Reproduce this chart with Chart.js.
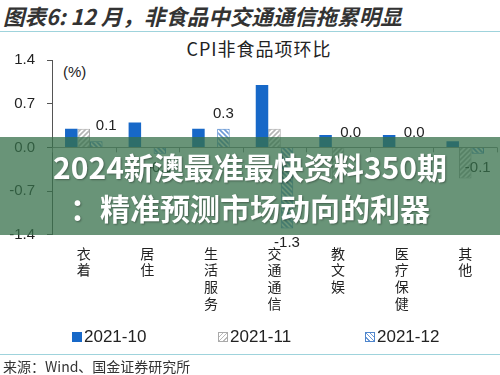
<!DOCTYPE html>
<html>
<head>
<meta charset="utf-8">
<script src="https://cdn.jsdelivr.net/npm/chart.js@4.4.0/dist/chart.umd.min.js"></script>
<style>
body { margin:0; width:500px; height:375px; background:#fff; position:relative; overflow:hidden; font-family:"Liberation Sans", Arial, sans-serif; }
#hdr { position:absolute; left:3px; top:0px; font:italic bold 21.5px "Noto Sans CJK SC", sans-serif; color:#333; white-space:nowrap; }
.rule { position:absolute; left:0; width:500px; height:1px; background:#9fd3dc; }
#ttl { position:absolute; left:0; width:518px; top:35px; text-align:center; font:18px "Noto Sans CJK SC", sans-serif; letter-spacing:1px; color:#222; }
#pct { position:absolute; left:63px; top:63px; font:15px "Liberation Sans", Arial, sans-serif; color:#222; }
#wrap { position:absolute; left:0; top:0; width:500px; height:330px; }
.ley { position:absolute; top:327px; font:17px "Liberation Sans", Arial, sans-serif; color:#222; white-space:nowrap; }
.ley i { display:inline-block; width:10px; height:10px; margin-right:2px; vertical-align:0px; box-sizing:border-box; }
#fuente { position:absolute; left:3px; top:356px; font:14px "Noto Sans CJK SC", sans-serif; color:#333; white-space:nowrap; }
#banner { position:absolute; left:0; top:137px; width:500px; height:98px; background:rgba(55,112,75,0.75); color:#fff; text-align:center; font:bold 30px "Noto Sans CJK SC", sans-serif; line-height:41px; text-shadow:1px 1px 2px rgba(0,0,0,0.35); padding-top:9px; box-sizing:border-box; }
</style>
</head>
<body>
<div id="hdr">图表6: 12 月，非食品中交通通信拖累明显</div>
<div class="rule" style="top:31px"></div>
<div id="ttl">CPI非食品项环比</div>
<div id="pct">(%)</div>
<div id="wrap"><canvas id="grafica" width="500" height="330"></canvas></div>
<div class="ley" style="left:72px"><i style="background:#1768c8"></i>2021-10</div>
<div class="ley" style="left:218px"><i style="border:1px solid #aaa;background:repeating-linear-gradient(-45deg,#fff 0 2px,#bbb 2px 3px)"></i>2021-11</div>
<div class="ley" style="left:365px"><i style="border:1px solid #4f86cc;background:repeating-linear-gradient(45deg,#fff 0 2px,#6d9ad8 2px 3px)"></i>2021-12</div>
<div class="rule" style="top:354px"></div>
<div id="fuente">来源：Wind、国金证券研究所</div>
<div id="banner"><div>2024新澳最准最快资料350期</div><div>：精准预测市场动向的利器</div></div>

<script>
// datos del grafico
var categorias = [['衣','着'],['居','住'],['生','活','服','务'],['交','通','通','信'],['教','文','娱'],['医','疗','保','健'],['其','他']];
var serieNombres = ['2021-10', '2021-11', '2021-12'];
var oct2021 = [0.3, 0.4, 0.3, 1.0, 0.2, 0.2, 0.1];
var nov2021 = [0.3, 0.0, 0.0, 0.3, -0.5, 0.0, -0.5];
var dic2021 = [0.1, -0.1, 0.3, -1.3, 0.0, 0.0, -0.1];
var ticksY = [-1.4, -0.7, 0.0, 0.7, 1.4];

// patron rayado para las barras
function rayado(fondo, raya, invertido) {
    var c = document.createElement('canvas');
    c.width = 5; c.height = 5;
    var g = c.getContext('2d');
    g.fillStyle = fondo;
    g.fillRect(0, 0, 5, 5);
    g.strokeStyle = raya;
    g.lineWidth = 1.6;
    g.beginPath();
    if (invertido) {
        g.moveTo(-1, -1); g.lineTo(6, 6);
        g.moveTo(-1, 4); g.lineTo(1, 6);
        g.moveTo(4, -1); g.lineTo(6, 1);
    } else {
        g.moveTo(-1, 6); g.lineTo(6, -1);
        g.moveTo(-1, 1); g.lineTo(1, -1);
        g.moveTo(4, 6); g.lineTo(6, 4);
    }
    g.stroke();
    return g.createPattern(c, 'repeat');
}

// etiquetas de la serie 2021-12 y marcas sobre la linea cero
var etiquetas = {
    id: 'etiquetas',
    afterDatasetsDraw: function(chart) {
        var ctx = chart.ctx;
        var x = chart.scales.x;
        var y0 = chart.scales.y.getPixelForValue(0);
        ctx.save();
        ctx.strokeStyle = '#888';
        ctx.lineWidth = 1;
        var paso = x.getPixelForValue(1) - x.getPixelForValue(0);
        for (var i = 0; i <= categorias.length; i++) {
            var px = Math.round(x.getPixelForValue(i) - paso / 2) + 0.5;
            ctx.beginPath();
            ctx.moveTo(px, y0);
            ctx.lineTo(px, y0 + 5);
            ctx.stroke();
        }
        ctx.font = '15px "Liberation Sans", Arial, sans-serif';
        ctx.fillStyle = '#222';
        ctx.textAlign = 'center';
        ctx.textBaseline = 'middle';
        var meta = chart.getDatasetMeta(2);
        meta.data.forEach(function(barra, i) {
            var v = dic2021[i];
            var yy = v < 0 ? barra.y + 14 : barra.y - 15;
            ctx.fillText(v.toFixed(1), barra.x + (i === 0 ? 10 : 0), yy);
        });
        ctx.restore();
    }
};

var ctx = document.getElementById('grafica').getContext('2d');
var miGrafico = new Chart(ctx, {
    type: 'bar',
    data: {
        labels: categorias,
        datasets: [
            { label: serieNombres[0], data: oct2021, backgroundColor: '#1768c8', borderWidth: 0 },
            { label: serieNombres[1], data: nov2021, backgroundColor: rayado('#fff', '#b5b5b5', false), borderColor: '#a8a8a8', borderWidth: 1 },
            { label: serieNombres[2], data: dic2021, backgroundColor: rayado('#fff', '#6d9ad8', true), borderColor: '#4f86cc', borderWidth: 1 }
        ]
    },
    options: {
        responsive: false,
        animation: false,
        devicePixelRatio: 1,
        layout: { padding: { top: 60, right: 3, left: 0, bottom: 8 } },
        plugins: { legend: { display: false }, tooltip: { enabled: false } },
        datasets: { bar: { categoryPercentage: 0.59, barPercentage: 1 } },
        scales: {
            x: {
                grid: { display: false, drawTicks: false },
                border: { display: false },
                ticks: {
                    padding: 10, autoSkip: false, maxRotation: 0, color: '#222',
                    font: { family: '"Noto Sans CJK SC", sans-serif', size: 14, lineHeight: 1.2 }
                }
            },
            y: {
                min: -1.4, max: 1.4,
                afterBuildTicks: function(s) { s.ticks = ticksY.map(function(v) { return { value: v }; }); },
                afterFit: function(s) { s.width = 52; },
                border: { display: true, color: '#555', width: 1 },
                grid: {
                    color: function(c) { return c.tick && c.tick.value === 0 ? '#8a8a8a' : 'rgba(0,0,0,0)'; },
                    tickColor: '#555', tickLength: 5, lineWidth: 1
                },
                ticks: {
                    padding: 12, color: '#222',
                    font: { family: '"Liberation Sans", Arial, sans-serif', size: 15 },
                    callback: function(v) { return Number(v).toFixed(1); }
                }
            }
        }
    },
    plugins: [etiquetas]
});
</script>
</body>
</html>
